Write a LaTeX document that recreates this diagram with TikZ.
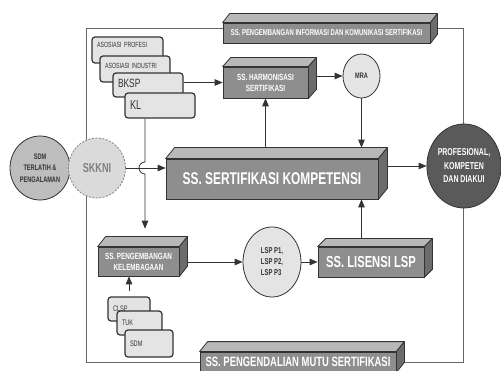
\documentclass[tikz,border=0pt]{standalone}
\usepackage{fontspec}
\setmainfont{Liberation Sans}
\newfontfamily\narrowfont[FakeStretch=0.7]{Liberation Sans}
\usetikzlibrary{arrows, shapes.geometric, calc}

\definecolor{facegray}{HTML}{8E8E8E}
\definecolor{topgray}{HTML}{B8B8B8}
\definecolor{sidegray}{HTML}{6C6C6C}
\definecolor{cardgray}{HTML}{E4E4E4}
\definecolor{linegray}{HTML}{333333}
\definecolor{sdmgray}{HTML}{BDBDBD}
\definecolor{profgray}{HTML}{5A5A5A}
\definecolor{skkgray}{HTML}{DADADA}

\begin{document}
\begin{tikzpicture}[x=1pt, y=1pt]

\tikzstyle{ss}=[draw=linegray, thick, fill=facegray, text=white, inner sep=1pt, align=center]
\tikzstyle{card}=[draw=linegray, very thick, fill=cardgray, rounded corners=3pt, text=linegray, align=left, inner xsep=5pt, inner ysep=1pt]
\tikzstyle{bubble}=[ellipse, draw=linegray, thick, inner sep=0pt, align=center]
\tikzstyle{arr}=[draw=linegray, thick, -triangle 45]
\tikzstyle{frame}=[draw=gray!80!black, thick]

\useasboundingbox (0,0) rectangle (501,370);
\draw [frame] (86,8) rectangle (463,342);

\node (aprof)  [card, text width=61pt, minimum height=26pt, text depth=10pt, font=\narrowfont\fontsize{7.5}{8}\selectfont] at (127.5,320) {ASOSIASI PROFESI};
\node (aind)   [card, text width=60pt, minimum height=26pt, text depth=6pt, font=\narrowfont\fontsize{7.5}{8}\selectfont] at (135,301) {ASOSIASI INDUSTRI};
\node (bksp)   [card, text width=60pt, minimum height=24pt, text depth=3pt, font=\narrowfont\fontsize{12}{13}\selectfont] at (148,285) {BKSP};
\node (kl)     [card, text width=60pt, minimum height=25pt, font=\narrowfont\fontsize{13}{14}\selectfont] at (160,264.5) {KL};
\node (clsp)   [card, text width=32pt, minimum height=24pt, text depth=1pt, font=\narrowfont\fontsize{8}{9}\selectfont] at (129,61) {CLSP};
\node (tuk)    [card, text width=35pt, minimum height=24pt, font=\narrowfont\fontsize{8}{9}\selectfont] at (139.5,47) {TUK};
\node (sdmbox) [card, text width=38pt, minimum height=27pt, font=\narrowfont\fontsize{8}{9}\selectfont] at (149,26.5) {SDM};

\node (sdm)   [bubble, fill=sdmgray, minimum width=60pt, minimum height=64pt, text=linegray, font=\narrowfont\bfseries\fontsize{8}{11.5}\selectfont] at (40,202) {SDM\\TERLATIH \&\\PENGALAMAN};
\node (skkni) [bubble, draw=gray, dash pattern=on 2pt off 1.5pt, fill=skkgray, minimum width=57pt, minimum height=60pt, text=gray, font=\narrowfont\bfseries\fontsize{13}{14}\selectfont] at (97,202) {SKKNI};
\node (mra)   [bubble, fill=cardgray, minimum width=37pt, minimum height=44pt, text=linegray, font=\narrowfont\bfseries\fontsize{8}{9}\selectfont] at (361.5,294) {MRA};
\node (lsp)   [bubble, fill=cardgray, minimum width=58pt, minimum height=70pt, text=linegray, align=left, font=\narrowfont\bfseries\fontsize{8.5}{11}\selectfont] at (272,108) {LSP P1,\\LSP P2,\\LSP P3};
\node (prof)  [bubble, fill=profgray, minimum width=68pt, minimum height=84pt, text=white, font=\narrowfont\bfseries\fontsize{10}{13.5}\selectfont] at (464,204) {PROFESIONAL,\\KOMPETEN\\DAN DIAKUI};

\node (info) [ss, minimum width=207pt, minimum height=20pt, font=\narrowfont\bfseries\fontsize{8.5}{10}\selectfont] at (326.5,337) {SS. PENGEMBANGAN INFORMASI DAN KOMUNIKASI SERTIFIKASI};
\node (harm) [ss, minimum width=85pt, minimum height=31pt, font=\narrowfont\bfseries\fontsize{9}{11}\selectfont] at (265.5,287.5) {SS. HARMONISASI\\SERTIFIKASI};
\node (sk)   [ss, minimum width=212pt, minimum height=40pt, font=\narrowfont\bfseries\fontsize{17}{19}\selectfont] at (272,191) {SS. SERTIFIKASI KOMPETENSI};
\node (lemb) [ss, minimum width=81pt, minimum height=29pt, font=\narrowfont\bfseries\fontsize{9}{11}\selectfont] at (138.5,108.5) {SS. PENGEMBANGAN\\KELEMBAGAAN};
\node (lis)  [ss, minimum width=106pt, minimum height=30pt, font=\narrowfont\bfseries\fontsize{16}{18}\selectfont] at (371,108) {SS. LISENSI LSP};
\node (mutu) [ss, minimum width=196pt, minimum height=20pt, font=\narrowfont\bfseries\fontsize{13.5}{15}\selectfont] at (298,8) {SS. PENGENDALIAN MUTU SERTIFIKASI};

\foreach \n/\dx/\dy in {info/7/9, harm/8/9, sk/9/11, lemb/8/10, lis/8/8, mutu/8/10} {
  \filldraw [fill=topgray, draw=linegray, thick, line join=round] (\n.north west) -- ++(\dx,\dy) -- ($(\n.north east)+(\dx,\dy)$) -- (\n.north east) -- cycle;
  \filldraw [fill=sidegray, draw=linegray, thick, line join=round] (\n.north east) -- ++(\dx,\dy) -- ($(\n.south east)+(\dx,\dy)$) -- (\n.south east) -- cycle;
}

\coordinate (klfoot) at ($(kl.south)+(-15,0)$);
\path [arr] (bksp.east |- harm.west) -- (harm.west);
\path [arr] ($(harm.east |- mra.west)+(8,0)$) -- (mra.west);
\path [arr] (mra.south) -- ($(mra.south |- sk.north)+(0,11)$);
\path [arr] ($(harm.south |- sk.north)+(0,11)$) -- (harm.south);
\path [arr] (skkni.east) -- (skkni.east -| sk.west);
\path [arr] (klfoot) -- ($(klfoot |- skkni.east)+(0,6)$) arc [start angle=90, end angle=270, radius=6pt] -- ($(klfoot |- lemb.north)+(0,18)$);
\path [arr] ($(sk.east |- prof.west)+(9,0)$) -- (prof.west);
\path [arr] ($(lemb.east |- lsp.west)+(8,0)$) -- (lsp.west);
\path [arr] (lsp.east) -- (lsp.east -| lis.west);
\path [arr] ($(lis.north -| mra.south)+(0,8)$) -- (mra.south |- sk.south);
\path [arr] ([yshift=5pt]clsp.north) -- (clsp.north |- lemb.south);
\end{tikzpicture}
\end{document}
